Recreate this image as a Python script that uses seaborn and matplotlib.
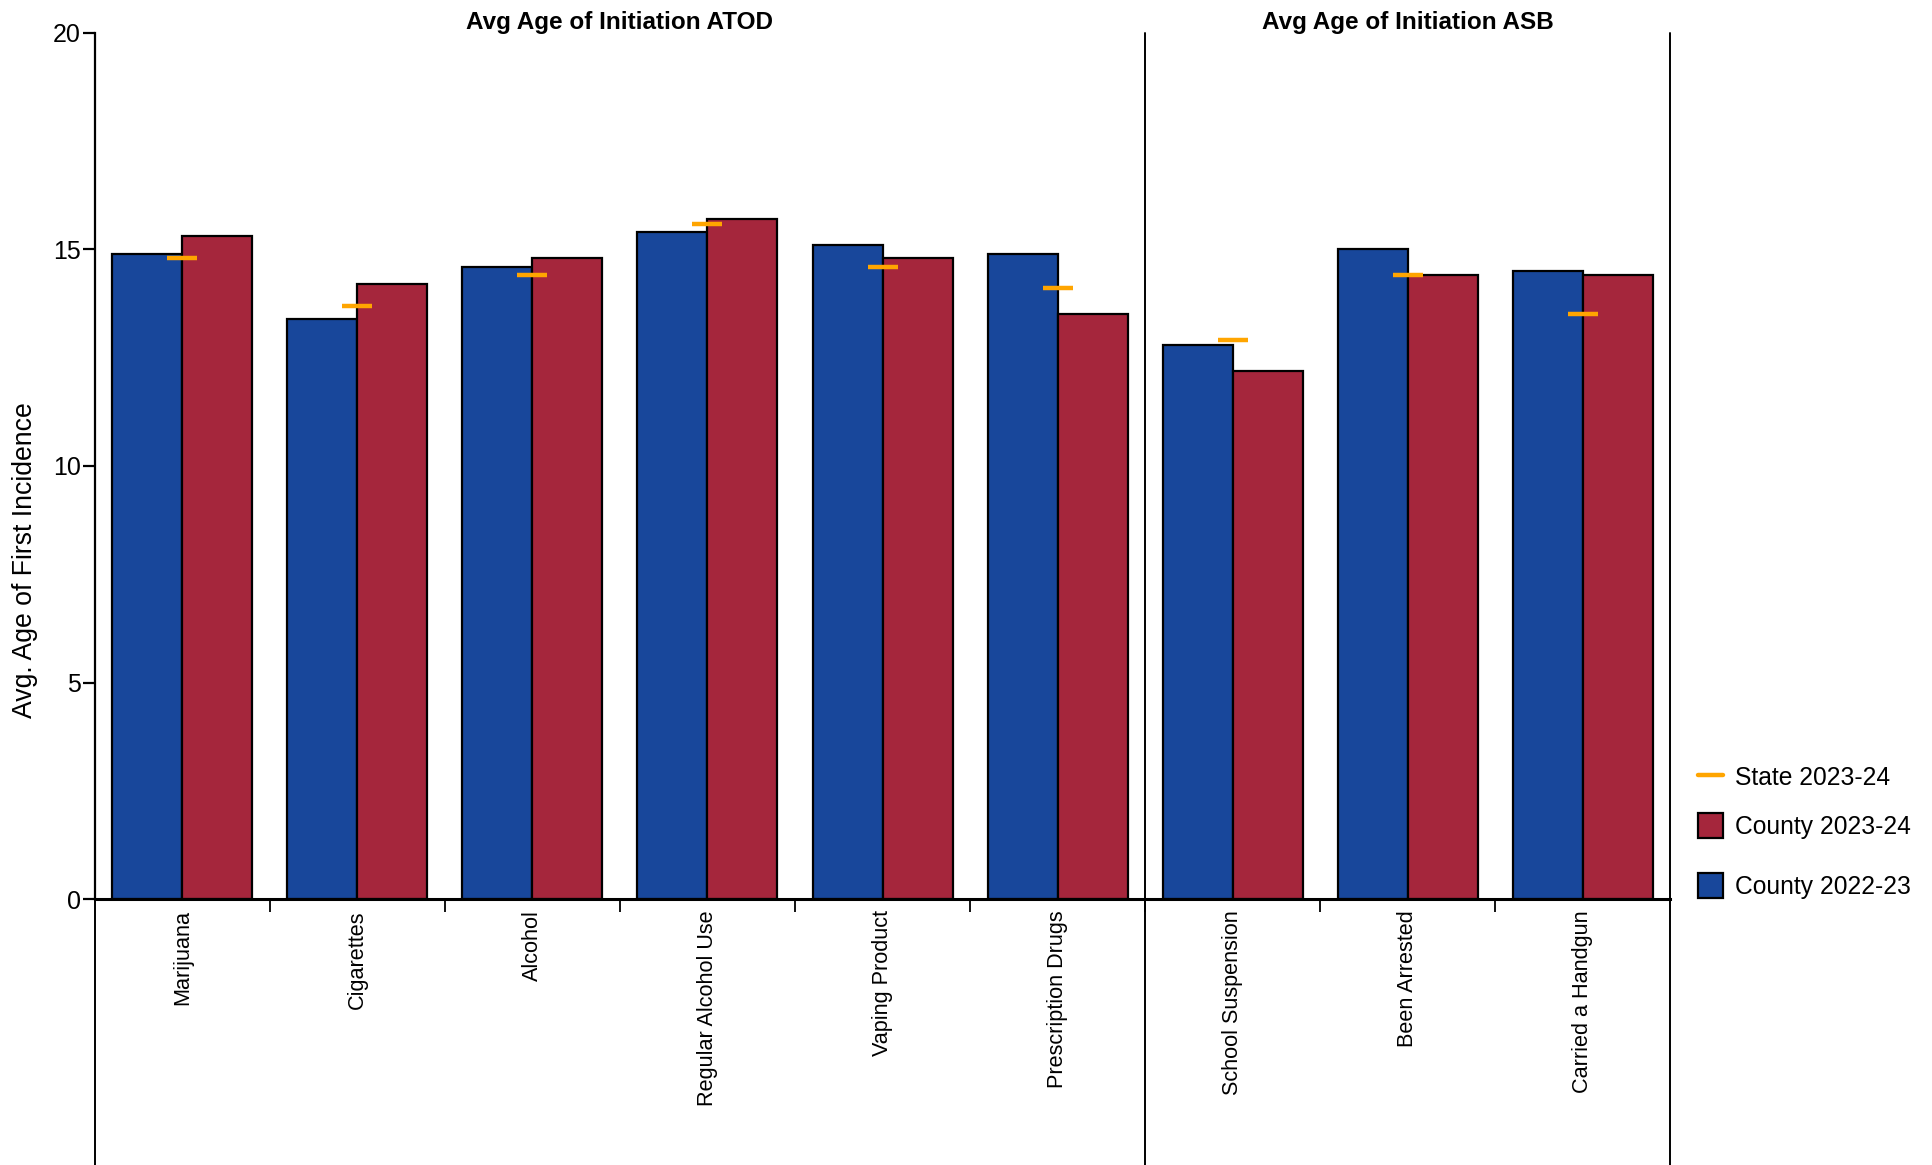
import pandas as pd
import seaborn as sns
import matplotlib.pyplot as plt
from matplotlib.lines import Line2D
from matplotlib.patches import Patch
import matplotlib.transforms as mtransforms

# --------------------------------------------------------------------
# Datos
# --------------------------------------------------------------------
categories = [
    "Marijuana", "Cigarettes", "Alcohol", "Regular Alcohol Use",
    "Vaping Product", "Prescription Drugs",
    "School Suspension", "Been Arrested", "Carried a Handgun",
]
county_2022_23 = [14.9, 13.4, 14.6, 15.4, 15.1, 14.9, 12.8, 15.0, 14.5]
county_2023_24 = [15.3, 14.2, 14.8, 15.7, 14.8, 13.5, 12.2, 14.4, 14.4]
state_2023_24 = [14.8, 13.7, 14.4, 15.6, 14.6, 14.1, 12.9, 14.4, 13.5]

group_titles = ["Avg Age of Initiation ATOD", "Avg Age of Initiation ASB"]
group_sizes = [6, 3]

blue = "#18479B"
red = "#A5263C"
orange = "#FFA500"

bars = pd.DataFrame({
    "category": categories * 2,
    "value": county_2022_23 + county_2023_24,
    "series": ["County 2022-23"] * len(categories) + ["County 2023-24"] * len(categories),
})
state = pd.DataFrame({"category": categories, "value": state_2023_24})

# --------------------------------------------------------------------
# Grafica
# --------------------------------------------------------------------
sns.set_theme(style="white")
plt.rcParams["font.family"] = ["Liberation Sans", "DejaVu Sans"]
plt.rcParams["text.color"] = "black"
plt.rcParams["axes.labelcolor"] = "black"
plt.rcParams["xtick.color"] = "black"
plt.rcParams["ytick.color"] = "black"

fig = plt.figure(figsize=(19.33, 11.65), dpi=100)
ax = fig.add_axes([0.0491, 0.2283, 0.8149, 0.7434])

sns.barplot(
    data=bars, x="category", y="value", hue="series",
    hue_order=["County 2022-23", "County 2023-24"],
    palette=[blue, red], saturation=1, width=0.8,
    edgecolor="black", linewidth=1.6, ax=ax, legend=False,
)

sns.pointplot(
    data=state, x="category", y="value", color=orange,
    markers="_", markersize=22, markeredgewidth=3.2,
    linestyle="none", errorbar=None, ax=ax,
)

ax.set_xlim(-0.5, len(categories) - 0.5)
ax.set_ylim(0, 20)
ax.set_yticks([0, 5, 10, 15, 20])

for side in ["top", "right"]:
    ax.spines[side].set_visible(False)
ax.spines["left"].set_linewidth(1.6)
ax.spines["bottom"].set_linewidth(2.2)
ax.spines["left"].set_color("black")
ax.spines["bottom"].set_color("black")

ax.tick_params(axis="y", left=True, length=9, width=1.6, pad=1,
               labelsize=18, colors="black")
ax.tick_params(axis="x", which="major", bottom=True, length=0, pad=8,
               labelsize=15.6, labelrotation=90, colors="black")
ax.set_xticks([i + 0.5 for i in range(len(categories) - 1)], minor=True)
ax.tick_params(axis="x", which="minor", bottom=True, length=9, width=1.3,
               colors="black")
for lbl in ax.get_xticklabels():
    lbl.set_va("top")
    lbl.set_ha("center")

ax.set_xlabel("")
ax.set_ylabel("Avg. Age of First Incidence", fontsize=19.2, color="black")
ax.yaxis.set_label_coords(-0.036, 0.391)

# Lineas verticales de separacion de grupos (se extienden por debajo del eje)
edges = [-0.5]
for n in group_sizes:
    edges.append(edges[-1] + n)
for x in edges:
    ax.axvline(x, ymin=-0.31, ymax=1, color="black", linewidth=1.4,
               clip_on=False)

# Titulos de grupo
trans = mtransforms.blended_transform_factory(ax.transData, ax.transAxes)
for title, a, b in zip(group_titles, edges[:-1], edges[1:]):
    ax.text((a + b) / 2, 1.012, title, transform=trans, ha="center",
            va="center", fontsize=17.5, fontweight="bold", color="black")

# Leyenda manual (una entrada por leyenda para respetar el espaciado)
handles = [
    Line2D([0], [0], color=orange, linewidth=3.2, label="State 2023-24"),
    Patch(facecolor=red, edgecolor="black", linewidth=1.6, label="County 2023-24"),
    Patch(facecolor=blue, edgecolor="black", linewidth=1.6, label="County 2022-23"),
]
legend_y = [0.333, 0.291, 0.2395]
for h, y in zip(handles, legend_y):
    fig.legend(
        handles=[h], loc="center left", bbox_to_anchor=(0.8784, y),
        frameon=False, fontsize=17.7, handlelength=1.0, handleheight=1.15,
        handletextpad=0.5, borderpad=0, borderaxespad=0, labelcolor="black",
    )

plt.savefig("out.png", dpi=100)
plt.close()
